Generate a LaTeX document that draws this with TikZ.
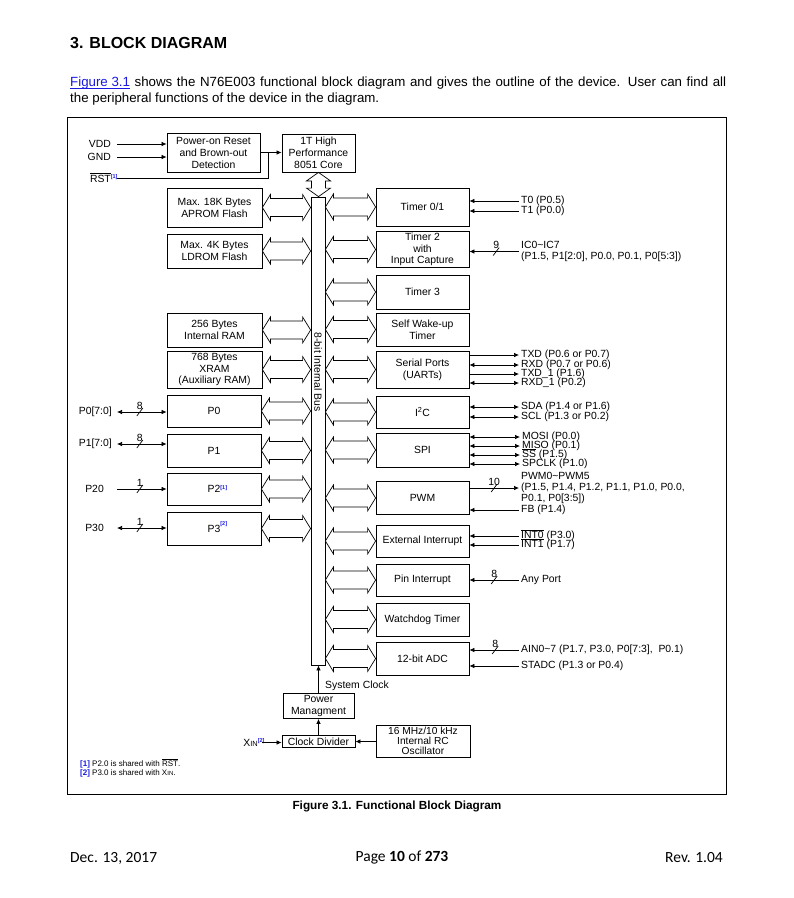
\documentclass[tikz,border=0pt]{standalone}
\usepackage{fontspec}
\setmainfont{Liberation Sans}
\newfontfamily\footfont{Carlito}
\usetikzlibrary{arrows.meta,calc}
\definecolor{lnk}{RGB}{25,25,225}
\newcommand\dfont{\fontsize{10.4}{12}\selectfont}
\newcommand\ovl[1]{\smash{$\overline{\mbox{#1}}$}}
\newcommand\uline[1]{\leavevmode\setbox0\hbox{#1}\rlap{\rule[-1.8pt]{\wd0}{0.6pt}}\box0}
\newcommand\fnote[1]{\textsuperscript{\color{lnk}\fontsize{5.5}{6}\selectfont\bfseries[#1]}}
\newcommand\hollowh[3]{\draw[hollow] let \p1=(#1), \p2=(#2), \p3=(#3) in
  (\x1,\y3) -- (\x1+8pt,\y3+13pt) -- (\x1+8pt,\y3+9pt) -- (\x2-8pt,\y3+9pt) -- (\x2-8pt,\y3+13pt) -- (\x2,\y3) -- (\x2-8pt,\y3-13pt) -- (\x2-8pt,\y3-9pt) -- (\x1+8pt,\y3-9pt) -- (\x1+8pt,\y3-13pt) -- cycle;}
\newcommand\hollowv[2]{\draw[hollow] let \p1=(#1), \p2=(#2) in
  (\x1,\y1) -- (\x1+12pt,\y1-8.5pt) -- (\x1+7pt,\y1-8.5pt) -- (\x1+7pt,\y2+8.5pt) -- (\x1+12pt,\y2+8.5pt) -- (\x1,\y2) -- (\x1-12pt,\y2+8.5pt) -- (\x1-7pt,\y2+8.5pt) -- (\x1-7pt,\y1-8.5pt) -- (\x1-12pt,\y1-8.5pt) -- cycle;}
\newcommand\busmark[3]{\draw[sig] ($(#1)+(-3,4)$) -- ($(#1)+(3,-4)$); \node[lbl,anchor=south] (#2) at ($(#1)+(0,-2.5)$) {#3};}
\newcommand\sigline[3]{\draw[sig,#1] (#2.east |- #3.west) -- ([xshift=-2pt]#3.west);}
\begin{document}
\begin{tikzpicture}[x=1pt,y=-1pt,
  blk/.style={draw, line width=0.8pt, align=center, inner sep=0pt, font=\dfont, minimum width=93pt},
  lbl/.style={inner sep=0pt, font=\dfont, align=left},
  sig/.style={line width=0.7pt, >={Latex[length=5pt,width=4.5pt]}},
  hollow/.style={draw, line width=0.7pt, fill=white, line join=miter}]
\useasboundingbox (0,0) rectangle (794,898);
\fill[white] (0,0) rectangle (794,898);

% header
\node[anchor=west, inner sep=0pt, font=\fontsize{16}{19}\selectfont\bfseries] (title) at (70,43) {3. BLOCK DIAGRAM};
\node[anchor=north west, inner sep=0pt, text width=656pt, align=justify, font=\fontsize{13.3}{16}\selectfont] (para) at (70,77)
 {{\color{lnk}\uline{Figure 3.1}} shows the N76E003 functional block diagram and gives the outline of the device. User can find all\linebreak the peripheral functions of the device in the diagram.};

% frame
\draw[line width=0.9pt] (67,117) rectangle (726,794);

% top
\node[blk, minimum width=93pt, minimum height=39pt] (por) at (213.5,152.5) {Power-on Reset\\and Brown-out\\Detection};
\node[blk, minimum width=73pt, minimum height=38pt] (core) at (318.5,153) {1T High\\Performance\\8051 Core};
\node[lbl, anchor=east] (vdd) at (111,144) {VDD};
\node[lbl, anchor=east] (gnd) at (111,157) {GND};
\node[lbl, anchor=base east] (rst) at (111,182) {\ovl{RST}\rlap{\smash{\fnote{1}}}};
\coordinate (rstp) at (117,178);
\coordinate (jn) at (268,152.5);
\draw[sig,->] ([xshift=6pt]vdd.east) -- (por.west |- vdd.east);
\draw[sig,->] ([xshift=6pt]gnd.east) -- (por.west |- gnd.east);
\draw[sig] (rstp) -| (jn);
\draw[sig,->] (por.east |- jn) -- (core.west |- jn);

% bus
\node[draw, line width=0.8pt, fill=white, minimum width=14pt, minimum height=468pt, inner sep=0pt] (bus) at (318,431) {};
\node[lbl, rotate=-90] (buslbl) at (318,372) {8-bit Internal Bus};
\hollowv{core.south}{bus.north}

% left blocks
\node[blk, minimum width=95pt, minimum height=39pt] (apr) at (214.5,207.5) {Max. 18K Bytes\\APROM Flash};
\node[blk, minimum width=95pt, minimum height=34pt] (ldr) at (214.5,251) {Max. 4K Bytes\\LDROM Flash};
\node[blk, minimum width=95pt, minimum height=34pt] (ram) at (214.5,330) {256 Bytes\\Internal RAM};
\node[blk, minimum width=95pt, minimum height=37pt, font=\fontsize{10.4}{11.5}\selectfont] (xram) at (214.5,369.5) {768 Bytes\\XRAM\\(Auxiliary RAM)};
\node[blk, minimum width=94pt, minimum height=32pt] (p0) at (214,411) {P0};
\node[blk, minimum width=94pt, minimum height=33pt] (p1) at (214,450.5) {P1};
\node[blk, minimum width=94pt, minimum height=32pt] (p2) at (214,489) {P2\rlap{\smash{\fnote{1}}}};
\node[blk, minimum width=94pt, minimum height=33pt] (p3) at (214,528.5) {P3\rlap{\smash{\raisebox{3pt}{\fnote{2}}}}};
\foreach \b in {apr,ldr,ram,xram,p0,p1,p2,p3} {\hollowh{\b.east}{bus.west}{\b.center}}

% left port signals
\node[lbl, anchor=east] (p0l) at (112,412) {P0[7:0]};
\node[lbl, anchor=east] (p1l) at (112,444) {P1[7:0]};
\node[lbl, anchor=east] (p20) at (104,489) {P20};
\node[lbl, anchor=east] (p30) at (104,528) {P30};
\draw[sig,<->] ([xshift=5pt]p0l.east) -- coordinate[pos=0.46] (s0) (p0.west |- p0l.east);
\draw[sig,<->] ([xshift=5pt]p1l.east) -- coordinate[pos=0.46] (s1) (p1.west |- p1l.east);
\draw[sig,->] ([xshift=13pt]p20.east) -- coordinate[pos=0.46] (s2) (p2.west |- p20.east);
\draw[sig,<->] ([xshift=13pt]p30.east) -- coordinate[pos=0.46] (s3) (p3.west |- p30.east);
\busmark{s0}{n0}{8}
\busmark{s1}{n1}{8}
\busmark{s2}{n2}{1}
\busmark{s3}{n3}{1}

% right blocks
\node[blk, minimum height=38pt] (tim01) at (422.5,207) {Timer 0/1};
\node[blk, minimum height=36pt, font=\fontsize{10.4}{11.2}\selectfont] (tim2) at (422.5,249.5) {Timer 2\\with\\Input Capture};
\node[blk, minimum height=34pt] (tim3) at (422.5,292) {Timer 3};
\node[blk, minimum height=33pt] (swt) at (422.5,329.5) {Self Wake-up\\Timer};
\node[blk, minimum height=37pt] (uart) at (422.5,369.5) {Serial Ports\\(UARTs)};
\node[blk, minimum height=32pt] (i2c) at (422.5,412) {I\textsuperscript{2}C};
\node[blk, minimum height=34pt] (spi) at (422.5,450) {SPI};
\node[blk, minimum height=33pt] (pwm) at (422.5,498) {PWM};
\node[blk, minimum height=32pt] (eint) at (422.5,541) {External Interrupt};
\node[blk, minimum height=32pt] (pint) at (422.5,580) {Pin Interrupt};
\node[blk, minimum height=33pt] (wdt) at (422.5,619.5) {Watchdog Timer};
\node[blk, minimum height=33pt] (adc) at (422.5,658.5) {12-bit ADC};
\foreach \b in {tim01,tim2,tim3,swt,uart,i2c,spi,pwm,eint,pint,wdt,adc} {\hollowh{bus.east}{\b.west}{\b.center}}

% right signals
\node[lbl, anchor=west] (t0) at (521,201) {T0 (P0.5)};
\node[lbl, anchor=west] (t1) at (521,211) {T1 (P0.0)};
\sigline{<-}{tim01}{t0}
\sigline{<-}{tim01}{t1}
\node[lbl, anchor=west, font=\fontsize{10.4}{11}\selectfont] (ic) at (521,251.5) {IC0\textasciitilde IC7\\(P1.5, P1[2:0], P0.0, P0.1, P0[5:3])};
\draw[sig,<-] (tim2.east |- ic.west) -- coordinate[pos=0.54] (s9) ([xshift=-2pt]ic.west);
\busmark{s9}{n9}{9}

\node[lbl, anchor=west] (txd) at (521,355) {TXD (P0.6 or P0.7)};
\node[lbl, anchor=west] (rxd) at (521,365) {RXD (P0.7 or P0.6)};
\node[lbl, anchor=west] (txd1) at (521,374) {TXD\_1 (P1.6)};
\node[lbl, anchor=west] (rxd1) at (521,383) {RXD\_1 (P0.2)};
\sigline{->}{uart}{txd}
\sigline{<->}{uart}{rxd}
\sigline{->}{uart}{txd1}
\sigline{<->}{uart}{rxd1}

\node[lbl, anchor=west] (sda) at (521,407) {SDA (P1.4 or P1.6)};
\node[lbl, anchor=west] (scl) at (521,417) {SCL (P1.3 or P0.2)};
\sigline{<->}{i2c}{sda}
\sigline{<->}{i2c}{scl}

\node[lbl, anchor=west] (mosi) at (522,437) {MOSI (P0.0)};
\node[lbl, anchor=west] (miso) at (522,446) {MISO (P0.1)};
\node[lbl, anchor=west] (ss) at (522,455) {\ovl{SS} (P1.5)};
\node[lbl, anchor=west] (spclk) at (522,464) {SPCLK (P1.0)};
\sigline{<->}{spi}{mosi}
\sigline{<->}{spi}{miso}
\sigline{<->}{spi}{ss}
\sigline{<->}{spi}{spclk}

\node[lbl, anchor=west, font=\fontsize{10.4}{11}\selectfont] (pwml) at (521,488) {PWM0\textasciitilde PWM5\\(P1.5, P1.4, P1.2, P1.1, P1.0, P0.0,\\P0.1, P0[3:5])};
\draw[sig,->] (pwm.east |- pwml.west) -- coordinate[pos=0.5] (s10) ([xshift=-2pt]pwml.west);
\busmark{s10}{n10}{10}
\node[lbl, anchor=west] (fb) at (521,510) {FB (P1.4)};
\sigline{<-}{pwm}{fb}

\node[lbl, anchor=west] (int0) at (521,536) {\ovl{INT0} (P3.0)};
\node[lbl, anchor=west] (int1) at (521,545) {\ovl{INT1} (P1.7)};
\sigline{<-}{eint}{int0}
\sigline{<-}{eint}{int1}

\node[lbl, anchor=west] (anyp) at (521,580) {Any Port};
\draw[sig,<-] (pint.east |- anyp.west) -- coordinate[pos=0.5] (s8a) ([xshift=-2pt]anyp.west);
\busmark{s8a}{n8a}{8}

\node[lbl, anchor=west] (ain) at (521,650) {AIN0\textasciitilde 7 (P1.7, P3.0, P0[7:3],\ \ P0.1)};
\node[lbl, anchor=west] (stadc) at (521,666) {STADC (P1.3 or P0.4)};
\draw[sig,<-] (adc.east |- ain.west) -- coordinate[pos=0.52] (s8b) ([xshift=-2pt]ain.west);
\busmark{s8b}{n8b}{8}
\sigline{<-}{adc}{stadc}

% clock section
\node[blk, minimum width=71pt, minimum height=25pt, font=\fontsize{10.4}{12}\selectfont] (pm) at (318.5,706) {Power\\Managment};
\node[blk, minimum width=73pt, minimum height=11.6pt] (cd) at (318.5,741.5) {Clock Divider};
\node[blk, minimum width=94pt, minimum height=32pt, font=\fontsize{10.2}{9.8}\selectfont] (osc) at (423,741) {16 MHz/10 kHz\\Internal RC\\Oscillator};
\draw[sig,->] (pm.north) -- (pm.north |- bus.south);
\draw[sig,->] (cd.north) -- (pm.south);
\draw[sig,->] (osc.west |- cd.east) -- (cd.east);
\node[lbl, anchor=west] (sysclk) at (325,686) {System Clock};
\node[lbl, anchor=base east] (xin) at (258,746) {X{\fontsize{7.5}{8}\selectfont IN}\rlap{\smash{\fnote{2}}}};
\coordinate (xinp) at (262,742.5);
\draw[sig,->] (xinp) -- (cd.west |- xinp);

% footnotes
\node[lbl, anchor=west, font=\fontsize{8}{9}\selectfont] (fn1) at (80,764) {{\color{lnk}\bfseries[1]} P2.0 is shared with \ovl{RST}.};
\node[lbl, anchor=west, font=\fontsize{8}{9}\selectfont] (fn2) at (80,773) {{\color{lnk}\bfseries[2]} P3.0 is shared with X{\fontsize{6}{7}\selectfont IN}.};

% caption and footer
\node[inner sep=0pt, font=\fontsize{11.8}{13}\selectfont\bfseries] (cap) at (397,806) {Figure 3.1. Functional Block Diagram};
\node[anchor=west, inner sep=0pt, font=\footfont\fontsize{15.5}{18}\selectfont] (f1) at (70,858) {Dec. 13, 2017};
\node[inner sep=0pt, font=\footfont\fontsize{15.5}{18}\selectfont] (f2) at (402,858) {Page \textbf{10} of \textbf{273}};
\node[anchor=east, inner sep=0pt, font=\footfont\fontsize{15.5}{18}\selectfont] (f3) at (723,858) {Rev. 1.04};
\end{tikzpicture}
\end{document}
